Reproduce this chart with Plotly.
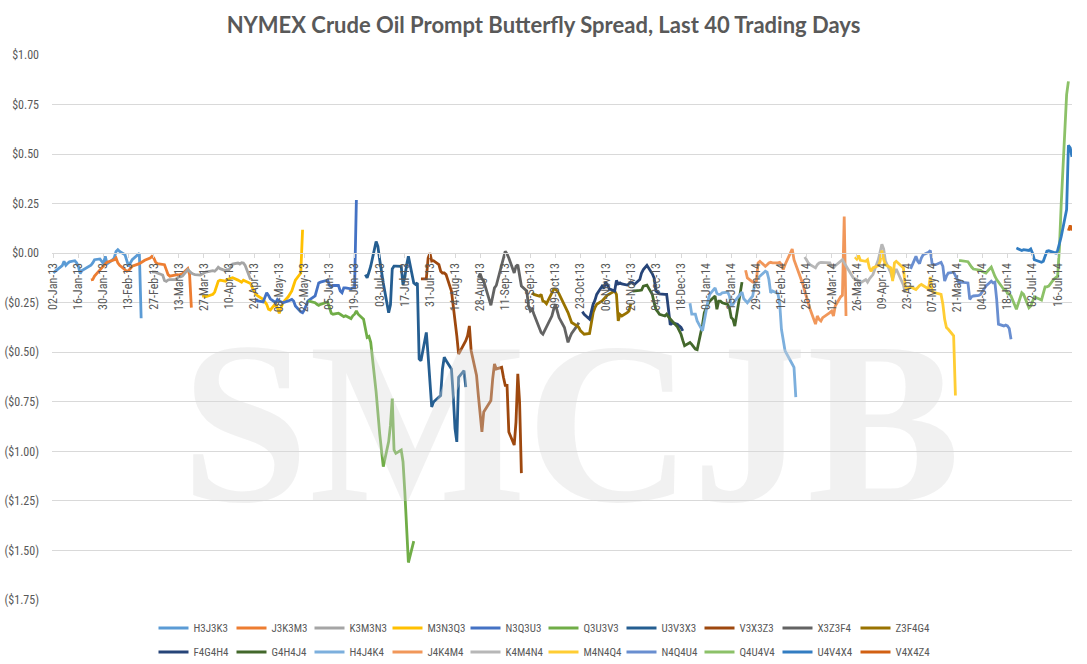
import pandas as pd
import plotly.graph_objects as go

# NYMEX holidays inside the window (no settlement on these days)
holidays = ["2013-01-01", "2013-01-21", "2013-02-18", "2013-03-29", "2013-05-27",
            "2013-07-04", "2013-09-02", "2013-11-28", "2013-12-25", "2014-01-01",
            "2014-01-20", "2014-02-17", "2014-04-18", "2014-05-26", "2014-07-04"]

names = ["H3J3K3", "J3K3M3", "K3M3N3", "M3N3Q3", "N3Q3U3", "Q3U3V3", "U3V3X3",
         "V3X3Z3", "X3Z3F4", "Z3F4G4", "F4G4H4", "G4H4J4", "H4J4K4", "J4K4M4",
         "K4M4N4", "M4N4Q4", "N4Q4U4", "Q4U4V4", "U4V4X4", "V4X4Z4"]

# last trading day shown for each butterfly
last_days = ["2013-02-20", "2013-03-20", "2013-04-22", "2013-05-21", "2013-06-20",
             "2013-07-22", "2013-08-20", "2013-09-20", "2013-10-22", "2013-11-20",
             "2013-12-19", "2014-01-21", "2014-02-20", "2014-03-20", "2014-04-22",
             "2014-05-20", "2014-06-20", "2014-07-22", "2014-07-24", "2014-07-24"]

# daily settlement spreads ($/bbl), oldest first
h3j3k3 = [-0.099, -0.091, -0.084, -0.063, -0.041, -0.061, -0.051, -0.044, -0.038, -0.049,
          -0.066, -0.103, -0.088, -0.069, -0.061, -0.049, -0.033, -0.029, -0.041, -0.053,
          -0.016, -0.054, -0.034, -0.024, 0.009, 0.018, 0.009, -0.008, -0.038, -0.066,
          -0.049, -0.033, -0.001, -0.328]
j3k3m3 = [-0.135, -0.133, -0.116, -0.083, -0.071, -0.063, -0.054, -0.046, -0.038, -0.033,
          -0.024, -0.049, -0.061, -0.083, -0.091, -0.088, -0.078, -0.066, -0.053, -0.046,
          -0.041, -0.036, -0.024, -0.016, -0.024, -0.044, -0.053, -0.054, -0.058, -0.083,
          -0.108, -0.116, -0.108, -0.108, -0.111, -0.108, -0.104, -0.078, -0.108, -0.275]
k3m3n3 = [-0.094, -0.094, -0.096, -0.100, -0.110, -0.138, -0.142, -0.135, -0.133, -0.133,
          -0.125, -0.120, -0.120, -0.116, -0.083, -0.094, -0.100, -0.105, -0.108, -0.111,
          -0.105, -0.100, -0.095, -0.088, -0.091, -0.083, -0.071, -0.078, -0.088, -0.083,
          -0.083, -0.070, -0.055, -0.050, -0.055, -0.048, -0.050, -0.062, -0.133]
m3n3q3 = [-0.216, -0.216, -0.220, -0.208, -0.196, -0.166, -0.141, -0.136, -0.141, -0.133,
          -0.130, -0.124, -0.124, -0.136, -0.141, -0.146, -0.136, -0.141, -0.153, -0.175,
          -0.191, -0.208, -0.216, -0.233, -0.246, -0.258, -0.283, -0.287, -0.253, -0.275,
          -0.303, -0.275, -0.250, -0.220, -0.208, -0.191, -0.163, -0.136, -0.100, 0.118]
n3q3u3 = [-0.236, -0.241, -0.246, -0.225, -0.200, -0.213, -0.230, -0.250, -0.233, -0.241,
          -0.246, -0.250, -0.241, -0.236, -0.233, -0.241, -0.266, -0.296, -0.300, -0.286,
          -0.266, -0.241, -0.216, -0.186, -0.150, -0.146, -0.141, -0.136, -0.163, -0.170,
          -0.163, -0.163, -0.191, -0.200, -0.175, -0.175, -0.180, -0.175, -0.175, 0.268]
q3u3v3 = [-0.241, -0.250, -0.258, -0.263, -0.258, -0.250, -0.246, -0.275, -0.303, -0.308,
          -0.303, -0.308, -0.316, -0.320, -0.316, -0.330, -0.316, -0.308, -0.292, -0.308,
          -0.333, -0.383, -0.425, -0.420, -0.450, -0.700, -0.820, -0.910, -1.077, -0.951,
          -0.868, -0.734, -0.993, -1.010, -0.993, -1.052, -1.202, -1.352, -1.561, -1.453]
u3v3x3 = [-0.108, -0.124, -0.096, -0.066, 0.059, 0.034, -0.033, -0.150, -0.300, -0.260,
          -0.080, -0.065, -0.065, -0.066, -0.160, -0.120, -0.060, -0.016, -0.150, -0.158,
          -0.150, -0.534, -0.543, -0.400, -0.517, -0.651, -0.776, -0.751, -0.726, -0.718,
          -0.584, -0.525, -0.542, -0.584, -0.718, -0.885, -0.952, -0.626, -0.593, -0.676]
v3x3z3 = [-0.130, -0.130, -0.024, 0.000, -0.040, -0.038, -0.058, -0.091, -0.100, -0.100,
          -0.108, -0.191, -0.266, -0.333, -0.417, -0.509, -0.459, -0.442, -0.417, -0.367,
          -0.492, -0.617, -0.718, -0.818, -0.902, -0.801, -0.743, -0.634, -0.559, -0.584,
          -0.576, -0.626, -0.667, -0.667, -0.902, -0.968, -0.851, -0.609, -0.751, -1.110]
x3z3f4 = [-0.124, -0.103, -0.129, -0.141, -0.263, -0.208, -0.175, -0.163, -0.058, -0.016,
          0.009, -0.004, -0.024, -0.100, -0.066, -0.058, -0.116, -0.166, -0.191, -0.267,
          -0.292, -0.283, -0.308, -0.375, -0.400, -0.409, -0.392, -0.375, -0.317, -0.283,
          -0.258, -0.292, -0.325, -0.375, -0.417, -0.450, -0.425, -0.405, -0.367, -0.350]
z3f4g4 = [-0.200, -0.208, -0.217, -0.208, -0.242, -0.245, -0.255, -0.195, -0.183, -0.183,
          -0.191, -0.205, -0.258, -0.275, -0.300, -0.325, -0.350, -0.367, -0.375, -0.392,
          -0.400, -0.409, -0.405, -0.350, -0.300, -0.275, -0.258, -0.241, -0.233, -0.221,
          -0.211, -0.205, -0.191, -0.208, -0.342, -0.309, -0.317, -0.300, -0.292, -0.255]
f4g4h4 = [-0.295, -0.308, -0.333, -0.292, -0.258, -0.238, -0.208, -0.166, -0.178, -0.145,
          -0.166, -0.180, -0.191, -0.138, -0.155, -0.150, -0.155, -0.161, -0.155, -0.145,
          -0.150, -0.158, -0.133, -0.100, -0.083, -0.061, -0.104, -0.125, -0.191, -0.200,
          -0.205, -0.208, -0.208, -0.283, -0.362, -0.350, -0.358, -0.367, -0.375, -0.392]
g4h4j4 = [-0.191, -0.191, -0.188, -0.186, -0.166, -0.161, -0.208, -0.250, -0.283, -0.295,
          -0.308, -0.317, -0.308, -0.321, -0.333, -0.342, -0.372, -0.392, -0.409, -0.440,
          -0.467, -0.451, -0.460, -0.484, -0.487, -0.360, -0.300, -0.258, -0.242, -0.216,
          -0.283, -0.242, -0.242, -0.250, -0.258, -0.275, -0.325, -0.334, -0.368, -0.146]
h4j4k4 = [-0.253, -0.308, -0.308, -0.342, -0.392, -0.334, -0.242, -0.208, -0.175, -0.203,
          -0.208, -0.208, -0.200, -0.196, -0.216, -0.267, -0.258, -0.242, -0.196, -0.230,
          -0.242, -0.250, -0.216, -0.158, -0.133, -0.125, -0.116, -0.091, -0.096, -0.133,
          -0.200, -0.191, -0.203, -0.250, -0.384, -0.450, -0.492, -0.559, -0.576, -0.726]
j4k4m4 = [-0.086, -0.125, -0.146, -0.146, -0.141, -0.049, -0.041, -0.066, -0.058, -0.049,
          -0.046, -0.049, -0.049, -0.046, -0.058, -0.083, -0.058, 0.021, -0.033, -0.058,
          -0.074, -0.158, -0.191, -0.225, -0.258, -0.283, -0.358, -0.317, -0.334, -0.342,
          -0.325, -0.309, -0.300, -0.292, -0.317, -0.267, -0.220, -0.213, 0.185, -0.317]
k4m4n4 = [-0.019, -0.036, -0.049, -0.058, -0.074, -0.058, -0.049, -0.046, -0.046, -0.046,
          -0.049, -0.069, -0.074, -0.063, -0.041, -0.033, -0.049, -0.063, -0.083, -0.124,
          -0.130, -0.133, -0.141, -0.150, -0.133, -0.146, -0.130, -0.116, -0.108, -0.033,
          0.000, 0.045, 0.020, -0.040, -0.100, -0.130, -0.100, -0.080, -0.160, -0.200]
m4n4q4 = [-0.020, -0.030, -0.012, -0.036, -0.041, -0.033, -0.074, -0.091, -0.074, -0.063,
          -0.041, 0.014, -0.033, -0.058, -0.074, -0.141, -0.049, -0.041, -0.074, -0.166,
          -0.183, -0.175, -0.170, -0.183, -0.170, -0.163, -0.158, -0.163, -0.180, -0.120,
          -0.191, -0.200, -0.200, -0.208, -0.258, -0.334, -0.375, -0.384, -0.417, -0.718]
n4q4u4 = [-0.079, -0.016, -0.041, -0.053, -0.024, -0.008, 0.004, 0.014, -0.053, -0.058,
          -0.058, -0.046, -0.066, -0.141, -0.116, -0.100, -0.096, -0.113, -0.133, -0.150,
          -0.146, -0.150, -0.233, -0.220, -0.216, -0.213, -0.208, -0.196, -0.180, -0.166,
          -0.141, -0.150, -0.146, -0.233, -0.358, -0.367, -0.363, -0.367, -0.380, -0.434]
q4u4v4 = [-0.038, -0.038, -0.043, -0.058, -0.070, -0.080, -0.086, -0.086, -0.093, -0.096,
          -0.100, -0.070, -0.096, -0.116, -0.133, -0.146, -0.183, -0.183, -0.203, -0.206,
          -0.216, -0.283, -0.258, -0.225, -0.200, -0.208, -0.275, -0.266, -0.246, -0.220,
          -0.236, -0.200, -0.170, -0.170, -0.166, -0.130, -0.125, -0.116, 0.030, 0.250,
          0.800, 0.867]
u4v4x4 = [0.026, 0.021, 0.018, 0.014, 0.018, 0.014, 0.021, 0.000, -0.033, -0.046,
          -0.041, -0.016, 0.010, 0.012, 0.004, 0.000, 0.014, 0.043, 0.084, 0.220,
          0.544, 0.532, 0.486]
v4x4z4 = [0.114, 0.140, 0.114]

spreads = [h3j3k3, j3k3m3, k3m3n3, m3n3q3, n3q3u3, q3u3v3, u3v3x3, v3x3z3, x3z3f4, z3f4g4,
           f4g4h4, g4h4j4, h4j4k4, j4k4m4, k4m4n4, m4n4q4, n4q4u4, q4u4v4, u4v4x4, v4x4z4]

y_ticks = [-1.75, -1.5, -1.25, -1.0, -0.75, -0.5, -0.25, 0.0, 0.25, 0.5, 0.75, 1.0]
y_labels = ["($1.75)", "($1.50)", "($1.25)", "($1.00)", "($0.75)", "($0.50)", "($0.25)",
            "$0.00", "$0.25", "$0.50", "$0.75", "$1.00"]

# Office 2013 chart palette, in series order
colors = ["#5B9BD5", "#ED7D31", "#A5A5A5", "#FFC000", "#4472C4", "#70AD47",
          "#255E91", "#9E480E", "#636363", "#997300", "#264478", "#43682B",
          "#7CAFDD", "#F1975A", "#B7B7B7", "#FFCD33", "#698ED0", "#8CC168",
          "#327DC2", "#D26012"]

grey_text = "#595959"
grid = "#D9D9D9"
narrow = "Liberation Sans Narrow, Roboto Condensed, Arial Narrow, Roboto, sans-serif"
H = 664

fig = go.Figure()

for i, (name, last, vals) in enumerate(zip(names, last_days, spreads)):
    dates = pd.bdate_range(end=last, periods=len(vals), freq="C", holidays=holidays)
    fig.add_trace(go.Scatter(
        x=dates, y=vals, mode="lines", name=name,
        line=dict(color=colors[i], width=2.8),
        legend="legend" if i < 10 else "legend2",
        hovertemplate="%{x|%d-%b-%y}: %{y:$.2f}<extra>" + name + "</extra>",
    ))

# watermark sits on top of the lines, faintly
fig.add_annotation(
    text="<b>SMCJB</b>", xref="paper", yref="paper", x=0.509, y=0.323,
    xanchor="center", yanchor="middle", showarrow=False,
    font=dict(family="Liberation Serif, Times New Roman, serif",
              size=230, color="rgba(215,215,215,0.36)"),
)

legend_common = dict(orientation="h", xanchor="center", x=0.5, yanchor="middle",
                     xref="container", yref="container",
                     font=dict(family=narrow, size=11, color=grey_text),
                     entrywidthmode="pixels", entrywidth=33, bgcolor="rgba(0,0,0,0)")

fig.update_layout(
    width=1087, height=H,
    margin=dict(l=52, r=15, t=55, b=64, autoexpand=False),
    paper_bgcolor="white", plot_bgcolor="white",
    title=dict(text="<b>NYMEX Crude Oil Prompt Butterfly Spread, Last 40 Trading Days</b>",
               x=0.5, xref="container", xanchor="center",
               y=1 - 25 / H, yref="container", yanchor="middle",
               font=dict(family="Lato, Open Sans, sans-serif", size=22, color=grey_text)),
    xaxis=dict(
        type="date", range=["2013-01-01 07:00", "2014-07-24"],
        anchor="free", position=1.75 / 2.75, automargin=False,
        tick0="2013-01-02", dtick=14 * 86400000, tickformat="%d-%b-%y",
        tickangle=-90, showgrid=False, zeroline=False,
        showline=True, linecolor=grid, linewidth=1,
        ticks="outside", ticklen=4, tickcolor=grid,
        tickfont=dict(family=narrow, size=12, color=grey_text),
    ),
    yaxis=dict(
        range=[-1.75, 1.0], tickvals=y_ticks, ticktext=y_labels, automargin=False,
        showgrid=True, gridcolor=grid, gridwidth=1, zeroline=False,
        ticks="", ticklabelstandoff=12,
        tickfont=dict(family=narrow, size=12, color=grey_text),
    ),
    legend=dict(legend_common, y=1 - 628 / H),
    legend2=dict(legend_common, y=1 - 652 / H),
    showlegend=True,
    hovermode="closest",
)

# page body has a default 8px margin; drop it so the figure fills the window
fig.write_html("out.html", config={"displayModeBar": False},
               post_script="document.body.style.margin='0';")
